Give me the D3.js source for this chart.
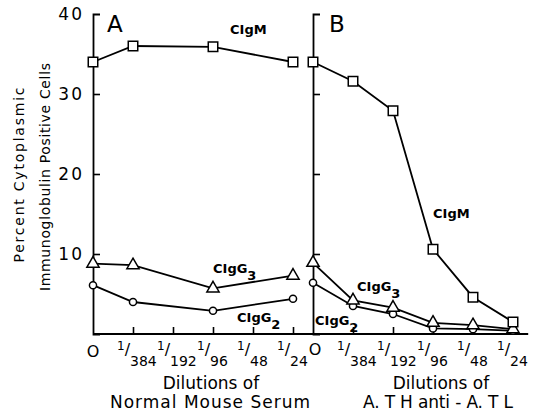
<!DOCTYPE html>
<html><head><meta charset="utf-8">
<script src="https://cdn.jsdelivr.net/npm/d3@7"></script>
<style>
body{margin:0;background:#fff;}
svg{display:block;font-family:"DejaVu Sans",sans-serif;}
</style></head>
<body><svg id="c" width="541" height="412"></svg>
<script>
const categories = ["0","1/384","1/192","1/96","1/48","1/24"];
const yTicks = [10,20,30,40];
const A_CIgM  = [34.0, 36.0, null, 35.9, null, 34.0];
const A_CIgG3 = [8.8, 8.6, null, 5.7, null, 7.3];
const A_CIgG2 = [6.1, 4.0, null, 2.9, null, 4.4];
const B_CIgM  = [34.0, 31.6, 27.9, 10.6, 4.6, 1.5];
const B_CIgG3 = [8.9, 4.2, 3.3, 1.4, 1.1, 0.6];
const B_CIgG2 = [6.4, 3.5, 2.5, 0.7, 0.6, 0.4];

const svg = d3.select("#c");
const y = d3.scaleLinear().domain([0,40]).range([334,14]);
const xA = d3.scaleLinear().domain([0,5]).range([93,293]);
const xB = d3.scaleLinear().domain([0,5]).range([313,513]);

// x axis baseline spanning both panels
svg.append("line").attr("x1",xA(0)).attr("x2",xB(5.38)).attr("y1",y(0)).attr("y2",y(0))
  .attr("stroke","#000").attr("stroke-width",1.8);

function panel(x, showY, zeroY){
  const ya = d3.axisLeft(y).tickValues(yTicks).tickSize(-7).tickSizeOuter(-7).tickPadding(9)
    .tickFormat(showY ? d3.format("d") : () => "");
  const g = svg.append("g").attr("transform",`translate(${x(0)},0)`).call(ya);
  g.select(".domain").attr("stroke-width",1.8);
  g.selectAll(".tick line").attr("stroke-width",1.6);
  g.selectAll(".tick text").attr("font-size",17).attr("letter-spacing",2).attr("fill","#000")
    .attr("font-family","'DejaVu Sans',sans-serif");
  g.selectAll(".tick").filter(d=>d===40).select("line").remove();

  const xa = d3.axisBottom(x).tickValues(d3.range(1,6)).tickSize(-7).tickSizeOuter(0).tickFormat(()=>"");
  const gx = svg.append("g").attr("transform",`translate(0,${y(0)})`).call(xa);
  gx.select(".domain").remove();
  gx.selectAll(".tick line").attr("stroke-width",1.6);
  gx.selectAll(".tick text").remove();

  // x tick labels
  categories.forEach((c,i)=>{
    if(c==="0"){
      svg.append("text").attr("x",x(i)+(zeroY<356?2:0)).attr("y",zeroY).attr("text-anchor","middle")
        .attr("font-size",16).text("O");
    } else {
      const [n,d] = c.split("/");
      const t = svg.append("text").attr("x",x(i)-16).attr("y",350).attr("font-size",12);
      t.append("tspan").text(n);
      t.append("tspan").attr("dy",5).attr("font-size",16).text("/");
      svg.append("text").attr("x",x(i)-3).attr("y",366).attr("font-size",14).text(d);
    }
  });
}
panel(xA, true, 357);
panel(xB, false, 355);

function series(x, data, shape){
  const pts = data.map((v,i)=>({i,v})).filter(p=>p.v!==null);
  svg.append("path").datum(pts)
    .attr("d", d3.line().x(p=>x(p.i)).y(p=>y(p.v)))
    .attr("fill","none").attr("stroke","#000").attr("stroke-width",1.8);
  const sym = {square:d3.symbolSquare, triangle:d3.symbolTriangle, circle:d3.symbolCircle}[shape];
  const size = {square:90, triangle:65, circle:40}[shape];
  svg.append("g").selectAll("path").data(pts).join("path")
    .attr("transform",p=>`translate(${x(p.i)},${y(p.v)})`)
    .attr("d", d3.symbol().type(sym).size(size))
    .attr("fill","#fff").attr("stroke","#000").attr("stroke-width",1.5);
}
series(xA, A_CIgG2, "circle");
series(xA, A_CIgG3, "triangle");
series(xA, A_CIgM, "square");
series(xB, B_CIgG2, "circle");
series(xB, B_CIgG3, "triangle");
series(xB, B_CIgM, "square");

// panel letters
svg.append("text").attr("x",xA(0)+14).attr("y",32).attr("font-size",23).text("A");
svg.append("text").attr("x",xB(0)+16).attr("y",32).attr("font-size",23).text("B");

// series labels
function lab(xp, yp, main, sub){
  const t = svg.append("text").attr("x",xp).attr("y",yp).attr("font-size",13).attr("font-weight","bold");
  t.append("tspan").text(main);
  if(sub){ t.append("tspan").attr("dy",7).attr("font-size",13).text(sub); }
}
lab(230, 34, "CIgM");
lab(213, 273, "CIgG", "3");
lab(237, 322, "CIgG", "2");
lab(433, 218, "CIgM");
lab(357, 291, "CIgG", "3");
lab(315, 325, "CIgG", "2");

// axis titles
svg.append("text").attr("transform","translate(24,175) rotate(-90)").attr("text-anchor","middle")
  .attr("font-size",14).attr("textLength",175).attr("lengthAdjust","spacing").text("Percent  Cytoplasmic");
svg.append("text").attr("transform","translate(50,177) rotate(-90)").attr("text-anchor","middle")
  .attr("font-size",14).attr("textLength",228).attr("lengthAdjust","spacing").text("Immunoglobulin  Positive  Cells");

svg.append("text").attr("x",211).attr("y",389).attr("text-anchor","middle").attr("font-size",17).text("Dilutions of");
svg.append("text").attr("x",210).attr("y",408).attr("text-anchor","middle").attr("font-size",17)
  .attr("textLength",200).attr("lengthAdjust","spacing").text("Normal Mouse  Serum");
svg.append("text").attr("x",441).attr("y",389).attr("text-anchor","middle").attr("font-size",17).text("Dilutions of");
svg.append("text").attr("x",438).attr("y",408).attr("text-anchor","middle").attr("font-size",17)
  .attr("textLength",150).attr("lengthAdjust","spacing").text("A. T H anti - A. T L");
</script></body></html>
